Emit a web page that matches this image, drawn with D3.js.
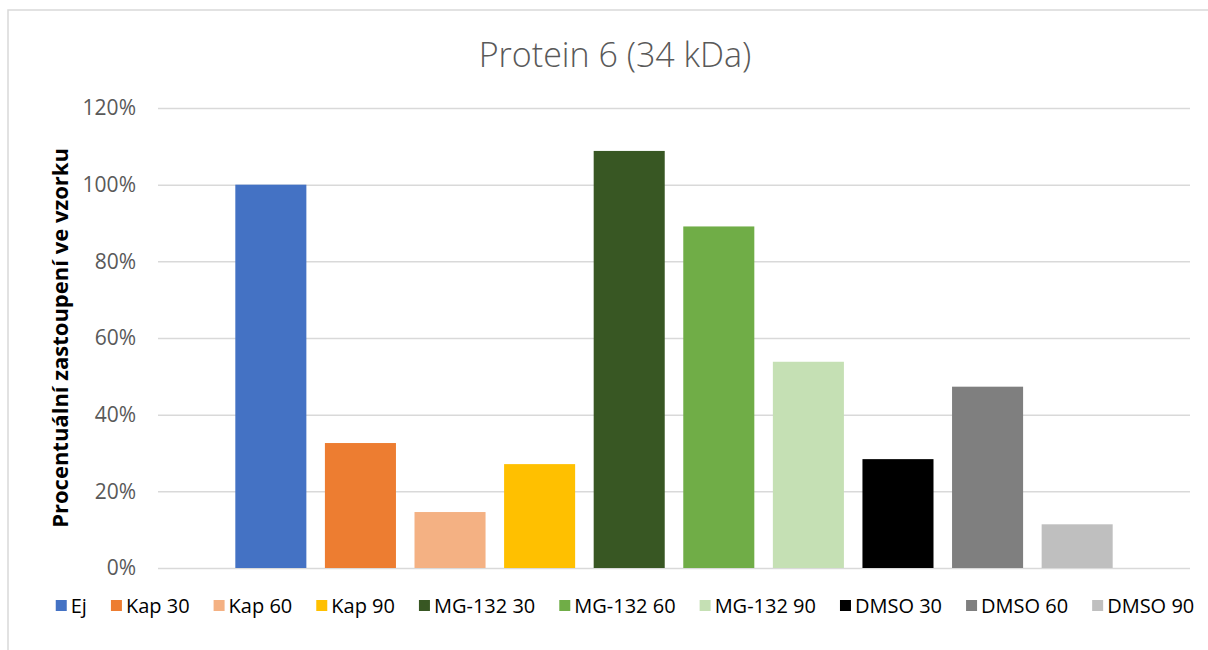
<!DOCTYPE html>
<html>
<head>
<meta charset="utf-8">
<script src="https://cdn.jsdelivr.net/npm/d3@7"></script>
<style>
  body { margin: 0; background: #fff; }
  svg { display: block; }
</style>
</head>
<body>
<script>
var W = 1208, H = 650;

// data
var series = ["Ej", "Kap 30", "Kap 60", "Kap 90", "MG-132 30", "MG-132 60", "MG-132 90", "DMSO 30", "DMSO 60", "DMSO 90"];
var values = [1.00, 0.326, 0.146, 0.271, 1.088, 0.891, 0.538, 0.284, 0.473, 0.114];
var colors = ["#4472C4", "#ED7D31", "#F4B183", "#FFC000", "#385723", "#70AD47", "#C5E0B4", "#000000", "#7F7F7F", "#BFBFBF"];
var yTicks = [0, 0.2, 0.4, 0.6, 0.8, 1.0, 1.2];

var margin = {top: 108, right: 18, bottom: 82, left: 158};
var w = W - margin.left - margin.right;
var h = H - margin.top - margin.bottom;

var svg = d3.select("body")
    .append("svg")
    .attr("width", W)
    .attr("height", H);

// chart border (cropped on right and bottom)
svg.append("rect")
    .attr("x", 8)
    .attr("y", 10)
    .attr("width", W + 10)
    .attr("height", H + 10)
    .attr("fill", "none")
    .attr("stroke", "#D9D9D9")
    .attr("stroke-width", 1.5);

var g = svg.append("g")
    .attr("transform", "translate(" + margin.left + "," + margin.top + ")");

var xScale = d3.scaleBand()
    .domain(series)
    .range([0, w])
    .paddingInner(0.207)
    .paddingOuter(0.863);

var yScale = d3.scaleLinear()
    .domain([0, 1.2])
    .range([h, 0]);

// Gridlines + tick labels
var yAxis = d3.axisLeft(yScale)
    .tickValues(yTicks)
    .tickSize(-w)
    .tickPadding(22)
    .tickFormat(d3.format(".0%"));

var ya = g.append("g")
    .attr("class", "y-axis")
    .call(yAxis);
ya.select(".domain").remove();
ya.selectAll("line")
    .attr("stroke", "#D9D9D9")
    .attr("stroke-width", 1.5);
ya.selectAll("text")
    .attr("fill", "#595959")
    .style("font-family", "'Open Sans', sans-serif")
    .style("font-size", "21px");

// Bars
g.selectAll(".bar")
    .data(values)
    .enter()
    .append("rect")
    .attr("class", "bar")
    .attr("x", function (d, i) { return xScale(series[i]); })
    .attr("y", function (d) { return yScale(d); })
    .attr("width", xScale.bandwidth())
    .attr("height", function (d) { return h - yScale(d); })
    .attr("fill", function (d, i) { return colors[i]; });

// Title
svg.append("text")
    .attr("x", 615)
    .attr("y", 67)
    .attr("text-anchor", "middle")
    .attr("fill", "#595959")
    .style("font-family", "'Open Sans', sans-serif")
    .style("font-weight", 300)
    .style("font-size", "34px")
    .text("Protein 6 (34 kDa)");

// Y axis title
svg.append("text")
    .attr("transform", "translate(68," + (margin.top + h / 2) + ") rotate(-90)")
    .attr("text-anchor", "middle")
    .attr("fill", "#000")
    .style("font-family", "'Open Sans', sans-serif")
    .style("font-weight", 700)
    .style("font-size", "22px")
    .text("Procentuální zastoupení ve vzorku");

// Legend
var legend = svg.append("g").attr("class", "legend");
var items = legend.selectAll(".item")
    .data(series)
    .enter()
    .append("g")
    .attr("class", "item");
items.append("rect")
    .attr("width", 11)
    .attr("height", 11)
    .attr("y", -13)
    .attr("fill", function (d, i) { return colors[i]; });
items.append("text")
    .attr("x", 15)
    .attr("y", 0)
    .attr("fill", "#000")
    .style("font-family", "'Open Sans', sans-serif")
    .style("font-size", "20px")
    .text(function (d) { return d; });

var gap = 24, xs = [], tot = 0;
items.each(function () {
    var bw = 15 + d3.select(this).select("text").node().getComputedTextLength();
    xs.push(tot);
    tot += bw + gap;
});
tot -= gap;
var lx = 625 - tot / 2;
items.attr("transform", function (d, i) { return "translate(" + (lx + xs[i]) + ",613)"; });
</script>
</body>
</html>
